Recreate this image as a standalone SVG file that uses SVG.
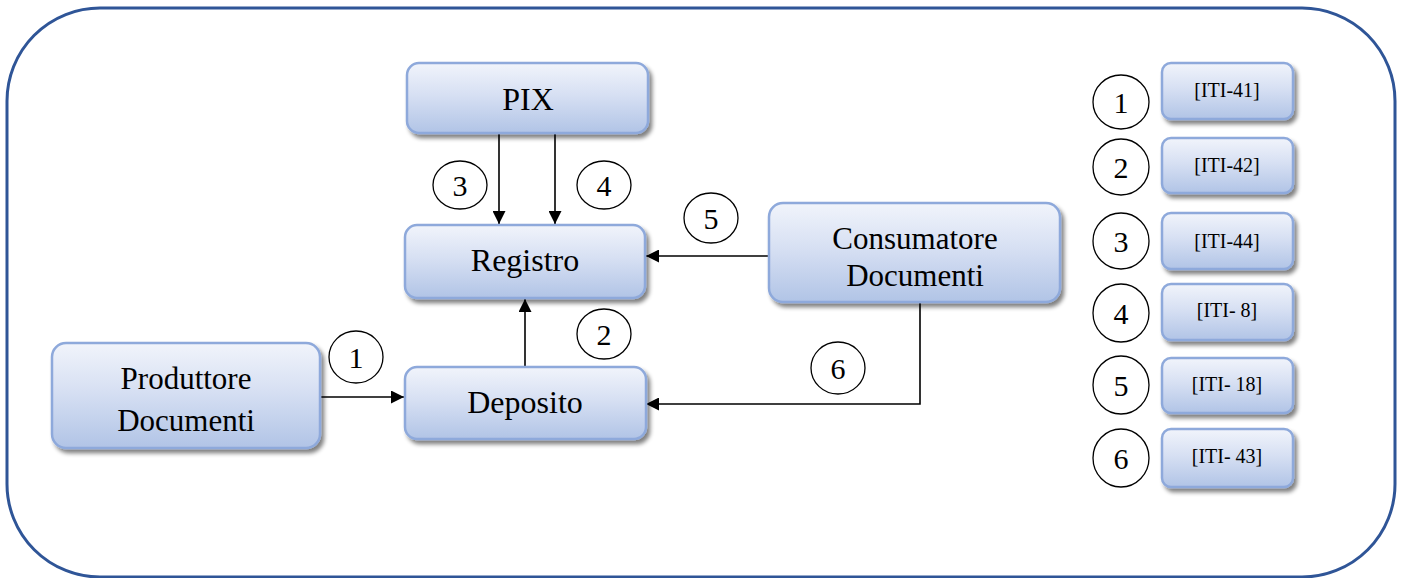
<svg xmlns="http://www.w3.org/2000/svg" width="1402" height="578" viewBox="0 0 1402 578">
  <defs>
    <linearGradient id="boxFill" x1="0" y1="0" x2="0" y2="1">
      <stop offset="0" stop-color="#F1F4FB"/>
      <stop offset="0.45" stop-color="#D7E0F3"/>
      <stop offset="1" stop-color="#B1C4E6"/>
    </linearGradient>
    <filter id="shadow" x="-10%" y="-10%" width="125%" height="135%">
      <feGaussianBlur in="SourceAlpha" stdDeviation="2"/>
      <feOffset dx="3" dy="4" result="off"/>
      <feComponentTransfer><feFuncA type="linear" slope="0.5"/></feComponentTransfer>
      <feMerge><feMergeNode/><feMergeNode in="SourceGraphic"/></feMerge>
    </filter>
    <marker id="arrow" viewBox="0 0 13 13" refX="13" refY="6.5" markerWidth="13" markerHeight="13" markerUnits="userSpaceOnUse" orient="auto">
      <path d="M0,0 L13,6.5 L0,13 Z" fill="#000"/>
    </marker>
  </defs>
  <style>
    .box { fill: url(#boxFill); stroke: #8EA9DB; stroke-width: 2.5; filter: url(#shadow); }
    .label { font-family: "Liberation Serif", "Times New Roman", serif; font-size: 32px; fill: #000; text-anchor: middle; }
    .two { font-size: 31px; }
    .small { font-family: "Liberation Serif", "Times New Roman", serif; font-size: 20px; fill: #000; text-anchor: middle; }
    .num { font-family: "Liberation Serif", "Times New Roman", serif; font-size: 30px; fill: #000; text-anchor: middle; }
    .ring { fill: #fff; stroke: #000; stroke-width: 1.3; }
    .wire { fill: none; stroke: #000; stroke-width: 1.6; }
  </style>

  <!-- frame -->
  <rect x="7" y="8" width="1388" height="569" rx="93" ry="93" fill="#fff" stroke="#2F5597" stroke-width="3"/>

  <!-- connectors -->
  <g id="connectors">
    <line class="wire" x1="499" y1="134" x2="499" y2="224" marker-end="url(#arrow)"/>
    <line class="wire" x1="555" y1="134" x2="555" y2="224" marker-end="url(#arrow)"/>
    <line class="wire" x1="525" y1="366" x2="525" y2="299" marker-end="url(#arrow)"/>
    <line class="wire" x1="321" y1="397" x2="404" y2="397" marker-end="url(#arrow)"/>
    <line class="wire" x1="769" y1="256" x2="646" y2="256" marker-end="url(#arrow)"/>
    <polyline class="wire" points="920,303 920,404 646,404" marker-end="url(#arrow)"/>
  </g>

  <!-- step numbers on connectors -->
  <g id="step-labels">
    <ellipse class="ring" cx="460" cy="185" rx="27" ry="24"/><text class="num" x="460" y="196">3</text>
    <ellipse class="ring" cx="604" cy="185" rx="27" ry="24"/><text class="num" x="604" y="196">4</text>
    <ellipse class="ring" cx="711" cy="218" rx="27" ry="25"/><text class="num" x="711" y="229">5</text>
    <ellipse class="ring" cx="604" cy="334" rx="27" ry="25"/><text class="num" x="604" y="345">2</text>
    <ellipse class="ring" cx="356" cy="357" rx="27" ry="26"/><text class="num" x="356" y="368">1</text>
    <ellipse class="ring" cx="838" cy="368" rx="27" ry="26"/><text class="num" x="838" y="379">6</text>
  </g>

  <!-- actors -->
  <g id="pix">
    <rect class="box" x="407" y="63" width="241" height="70" rx="12"/>
    <text class="label" x="528" y="110">PIX</text>
  </g>
  <g id="registro">
    <rect class="box" x="405" y="225" width="240" height="73" rx="12"/>
    <text class="label" x="525" y="271">Registro</text>
  </g>
  <g id="deposito">
    <rect class="box" x="405" y="367" width="241" height="72" rx="12"/>
    <text class="label" x="525" y="413">Deposito</text>
  </g>
  <g id="produttore">
    <rect class="box" x="52" y="343" width="268" height="105" rx="14"/>
    <text class="label two" x="186" y="389">Produttore</text>
    <text class="label two" x="186" y="431">Documenti</text>
  </g>
  <g id="consumatore">
    <rect class="box" x="769" y="203" width="291" height="99" rx="14"/>
    <text class="label two" x="915" y="249">Consumatore</text>
    <text class="label two" x="915" y="286">Documenti</text>
  </g>

  <!-- legend -->
  <g id="legend-1">
    <ellipse class="ring" cx="1121" cy="102" rx="28" ry="27"/><text class="num" x="1121" y="113">1</text>
    <rect class="box" x="1162" y="63" width="131" height="56" rx="9"/>
    <text class="small" x="1227" y="97">[ITI-41]</text>
  </g>
  <g id="legend-2">
    <ellipse class="ring" cx="1121" cy="167" rx="28" ry="28"/><text class="num" x="1121" y="178">2</text>
    <rect class="box" x="1162" y="138" width="131" height="55" rx="9"/>
    <text class="small" x="1227" y="172">[ITI-42]</text>
  </g>
  <g id="legend-3">
    <ellipse class="ring" cx="1121" cy="241" rx="28" ry="28"/><text class="num" x="1121" y="252">3</text>
    <rect class="box" x="1162" y="213" width="131" height="56" rx="9"/>
    <text class="small" x="1227" y="248">[ITI-44]</text>
  </g>
  <g id="legend-4">
    <ellipse class="ring" cx="1121" cy="313" rx="28" ry="29"/><text class="num" x="1121" y="324">4</text>
    <rect class="box" x="1162" y="284" width="131" height="56" rx="9"/>
    <text class="small" x="1227" y="317">[ITI- 8]</text>
  </g>
  <g id="legend-5">
    <ellipse class="ring" cx="1121" cy="385" rx="28" ry="29"/><text class="num" x="1121" y="396">5</text>
    <rect class="box" x="1162" y="358" width="131" height="55" rx="9"/>
    <text class="small" x="1227" y="391">[ITI- 18]</text>
  </g>
  <g id="legend-6">
    <ellipse class="ring" cx="1121" cy="458" rx="28" ry="29"/><text class="num" x="1121" y="469">6</text>
    <rect class="box" x="1162" y="429" width="131" height="58" rx="9"/>
    <text class="small" x="1227" y="463">[ITI- 43]</text>
  </g>
</svg>
